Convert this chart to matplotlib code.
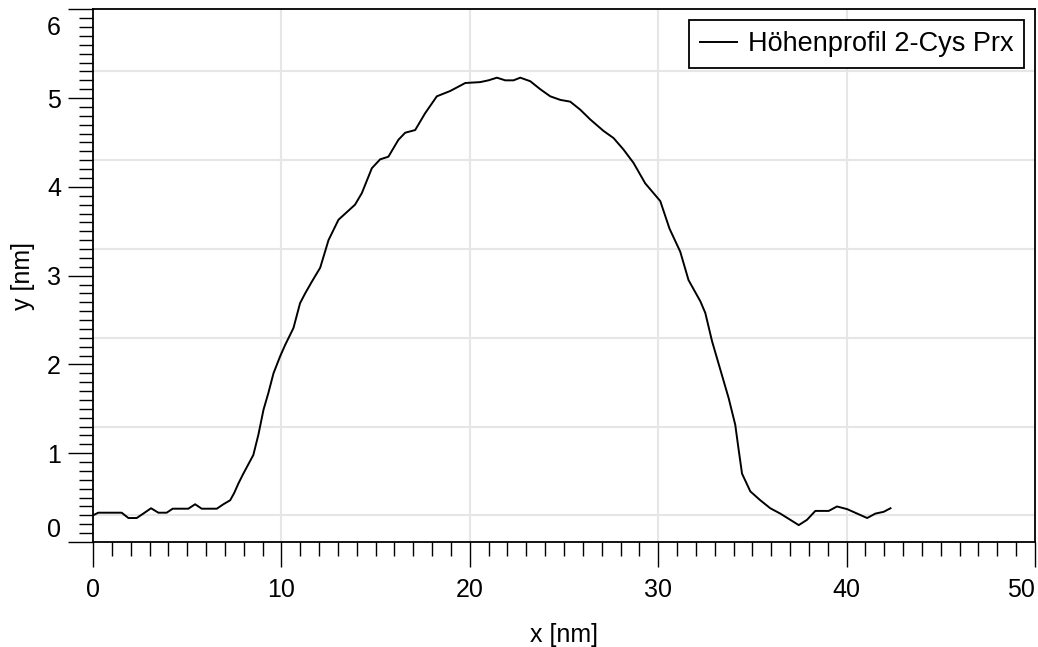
import matplotlib
matplotlib.use("Agg")
import matplotlib.pyplot as plt
import matplotlib.ticker as mticker
from matplotlib.transforms import ScaledTranslation
import numpy as np

# height profile
x_nm = [0.0, 0.28, 1.52, 1.88, 2.32, 2.67, 3.08, 3.47, 3.91, 4.23, 5.06, 5.42,
        5.77, 6.57, 6.92, 7.28, 7.49, 7.72, 7.98, 8.51, 8.78, 9.05, 9.31, 9.58,
        9.93, 10.2, 10.64, 10.99, 11.26, 11.61, 12.06, 12.5, 13.03, 13.91,
        14.27, 14.8, 15.24, 15.68, 16.21, 16.57, 17.1, 17.63, 18.25, 18.96,
        19.76, 20.55, 20.99, 21.44, 21.88, 22.32, 22.68, 23.21, 23.74, 24.27,
        24.8, 25.33, 25.86, 26.39, 27.1, 27.63, 28.16, 28.69, 29.31, 30.11,
        30.6, 31.17, 31.61, 32.24, 32.5, 32.86, 33.3, 33.74, 34.09, 34.27,
        34.45, 34.89, 35.42, 35.95, 36.48, 37.01, 37.46, 37.9, 38.34, 39.05,
        39.49, 40.03, 40.56, 41.09, 41.53, 41.97, 42.33]
y_nm = [0.30, 0.33, 0.33, 0.27, 0.27, 0.32, 0.38, 0.33, 0.33, 0.375, 0.375,
        0.425, 0.375, 0.375, 0.425, 0.47, 0.55, 0.66, 0.77, 0.98, 1.21, 1.49,
        1.68, 1.90, 2.09, 2.22, 2.41, 2.69, 2.80, 2.93, 3.09, 3.40, 3.63, 3.80,
        3.93, 4.21, 4.31, 4.34, 4.53, 4.61, 4.64, 4.83, 5.02, 5.08, 5.17, 5.18,
        5.20, 5.23, 5.20, 5.20, 5.23, 5.19, 5.10, 5.02, 4.98, 4.96, 4.87, 4.76,
        4.63, 4.55, 4.42, 4.27, 4.04, 3.84, 3.53, 3.27, 2.95, 2.71, 2.58, 2.26,
        1.94, 1.62, 1.32, 1.04, 0.77, 0.57, 0.47, 0.38, 0.32, 0.25, 0.19, 0.25,
        0.35, 0.35, 0.40, 0.37, 0.32, 0.27, 0.32, 0.34, 0.38]

X_TICKS = [0, 10, 20, 30, 40, 50]
Y_TICKS = [0, 1, 2, 3, 4, 5, 6]
GRID_Y = np.arange(0.3, 6.0, 1.0)

plt.rcParams["font.family"] = ["Liberation Sans", "DejaVu Sans"]
plt.rcParams["font.size"] = 18

fig = plt.figure(figsize=(10.38, 6.47), dpi=100)
ax = fig.add_axes([0.0896, 0.1623, 0.9075, 0.8233])

ax.plot(x_nm, y_nm, color="black", linewidth=1.4,
        label="Höhenprofil 2-Cys Prx", zorder=3)

ax.set_xlim(0, 50)
ax.set_ylim(0, 6)
ax.set_xticks(X_TICKS)
ax.set_yticks(Y_TICKS)
ax.xaxis.set_minor_locator(mticker.MultipleLocator(1))
ax.yaxis.set_minor_locator(mticker.MultipleLocator(0.1))
ax.tick_params(which="major", direction="out", length=18, width=1.0,
               color="black", labelsize=18)
ax.tick_params(axis="y", which="major", pad=5)
ax.tick_params(axis="x", which="major", pad=8)
ax.tick_params(which="minor", direction="out", length=10, width=1.0,
               color="black")

# odd grid of the original: vertical at major x ticks, horizontal offset by 0.3
for gx in X_TICKS[1:-1]:
    ax.axvline(gx, color="#e6e6e6", linewidth=1.5, zorder=0)
for gy in GRID_Y:
    ax.axhline(gy, color="#e6e6e6", linewidth=1.5, zorder=0)

for sp in ax.spines.values():
    sp.set_linewidth(1.3)
    sp.set_color("black")

ylabels = ax.get_yticklabels()
ylabels[0].set_va("bottom")
ylabels[-1].set_va("top")
ylabels[-1].set_transform(ylabels[-1].get_transform()
                          + ScaledTranslation(0, -5 / 72, fig.dpi_scale_trans))
xlabels = ax.get_xticklabels()
xlabels[-1].set_ha("right")

ax.set_xlabel("x [nm]", fontsize=18, labelpad=15)
ax.set_ylabel("y [nm]", fontsize=18, labelpad=9)

leg = ax.legend(loc="upper right", fontsize=19.5, frameon=True, fancybox=False,
                borderpad=0.4, borderaxespad=0.4, handlelength=1.35,
                handletextpad=0.4)
leg.get_frame().set_edgecolor("black")
leg.get_frame().set_linewidth(1.3)
leg.get_frame().set_alpha(1.0)

fig.savefig("out.png", dpi=100)
